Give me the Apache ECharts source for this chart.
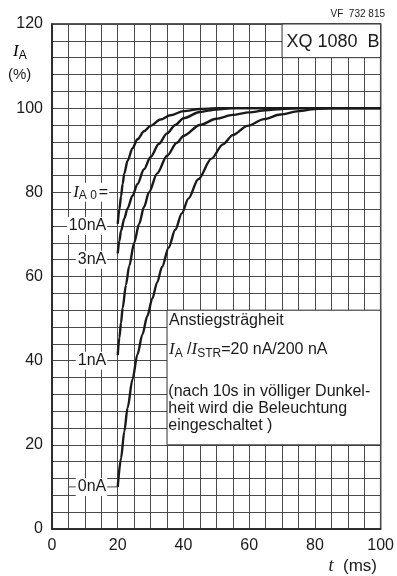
<!DOCTYPE html>
<html><head><meta charset="utf-8">
<script src="https://cdn.jsdelivr.net/npm/echarts@6/dist/echarts.min.js"></script>
<style>html,body{margin:0;padding:0;background:#fff}#c{width:397px;height:576px}</style>
</head><body><div id="c"></div>
<script>
// tick labels
const xTickLabels = [0, 20, 40, 60, 80, 100];
const yTickLabels = [0, 20, 40, 60, 80, 100, 120];
// curve names (dark current I_A0)
const curveNames = ['10nA', '3nA', '1nA', '0nA'];
// curves: [t (ms), I_A (%)]
const curve10nA = [[20,72.5],[20.5,76],[21,79],[21.5,82],[22,84.5],[23,87.5],[24.5,90.5],[26,92.6],[28,94.5],[30,95.8],[33,97.3],[36,98.3],[40,99.3],[45,99.8],[50,100],[100,100]];
const curve3nA = [[20,65.5],[20.5,68.5],[21,70.8],[22,73.8],[23,76.2],[24.5,79.2],[26,82],[28,85.5],[30,88.4],[32.5,91.5],[35,94],[37.5,96],[40,97.6],[45,99.1],[50,99.7],[55,100],[100,100]];
const curve1nA = [[20,41.3],[20.5,45.5],[21,49],[21.5,52.5],[22.5,58],[23.5,62.5],[25,68],[26.5,72.5],[28,76.5],[29.5,80],[32,84.5],[35,88.7],[38,91.8],[40,93.4],[45,96],[50,97.5],[55,98.4],[60,99],[65,99.5],[70,99.8],[75,100],[100,100]];
const curve0nA = [[20,10],[21,16.8],[22,23.2],[23,28.8],[24.5,35.6],[26,41.5],[27.5,46.2],[29,50.6],[30.5,54.7],[32,58.6],[33.5,62.3],[35.5,66.9],[37.5,71.1],[39.5,75],[41.5,78.5],[44.5,83.1],[48.5,88],[52,91.4],[55,93.6],[59.5,95.8],[64.5,97.4],[69.5,98.5],[75,99.3],[80,99.8],[85,100],[100,100]];
const leader0nA = [[5,10],[20,10]];

const FONT = 'Liberation Sans';
const INK = '#1a1a1a';
const GRIDC = '#4a4a4a';
const serifI = {fontFamily: 'Liberation Serif', fontStyle: 'italic', fontSize: 17, color: INK};

const chart = echarts.init(document.getElementById('c'), null, {renderer: 'canvas'});

function curveSeries(name, data) {
  return {
    name: name, type: 'line', data: data, showSymbol: false, smooth: 0.3, smoothMonotone: 'x',
    lineStyle: {color: INK, width: 2.4}, z: 5, silent: true
  };
}
function lab(extra) {
  return Object.assign({show: true, color: INK, fontFamily: FONT, opacity: 1, textBorderWidth: 0}, extra);
}

const option = {
  backgroundColor: '#fff',
  animation: false,
  textStyle: {fontFamily: FONT},
  grid: {left: 52, right: 13, top: 24, bottom: 47, show: true, borderColor: '#222', borderWidth: 1.5, backgroundColor: '#fff'},
  xAxis: {
    type: 'value', min: 0, max: 100, interval: 5,
    axisLine: {show: true, lineStyle: {color: '#222', width: 1.5}},
    axisTick: {show: false},
    axisLabel: {margin: 9, fontSize: 16, color: INK, fontFamily: FONT,
      formatter: v => xTickLabels.includes(v) ? String(v) : ''},
    splitLine: {show: true, lineStyle: {color: GRIDC, width: 1}}
  },
  yAxis: {
    type: 'value', min: 0, max: 120, interval: 4,
    axisLine: {show: true, lineStyle: {color: '#222', width: 1.5}},
    axisTick: {show: false},
    axisLabel: {margin: 9, fontSize: 16, color: INK, fontFamily: FONT,
      formatter: v => yTickLabels.includes(v) ? String(v) : ''},
    splitLine: {show: true, lineStyle: {color: GRIDC, width: 1}}
  },
  graphic: [
    {type: 'text', right: 12, top: 9, style: {text: 'VF  732 815', fontSize: 10, fontFamily: FONT, fill: INK}},
    {type: 'text', left: 13, top: 43, style: {
      text: '{i|I}{s|A}', rich: {i: serifI, s: {fontSize: 12, fontFamily: FONT, color: INK, padding: [8, 0, 0, 0]}}}},
    {type: 'text', left: 8, top: 67, style: {text: '(%)', fontSize: 15, fontFamily: FONT, fill: INK}},
    {type: 'text', right: 20, top: 557, style: {
      text: '{i|t}  (ms)', fontSize: 17, fontFamily: FONT, fill: INK,
      rich: {i: {fontFamily: 'Liberation Serif', fontStyle: 'italic', fontSize: 18, color: INK}}}}
  ],
  series: [
    curveSeries(curveNames[0], curve10nA),
    curveSeries(curveNames[1], curve3nA),
    curveSeries(curveNames[2], curve1nA),
    curveSeries(curveNames[3], curve0nA),
    {type: 'line', data: leader0nA, showSymbol: false, lineStyle: {color: GRIDC, width: 1}, z: 3, silent: true},
    {
      type: 'scatter', symbolSize: 0, z: 6, silent: true,
      itemStyle: {opacity: 1},
      markArea: {
        silent: true,
        itemStyle: {color: '#fff', borderColor: '#333', borderWidth: 1, opacity: 1},
        data: [
          [{coord: [35, 20]}, {coord: [100, 52]}],
          [{coord: [70, 112]}, {coord: [100, 120]}]
        ]
      },
      label: lab({}),
      data: [
        {value: [17.4, 80], label: lab({position: 'left', distance: 0, backgroundColor: '#fff', padding: [0, 1, 0, 2],
          formatter: '{i|I}{s|A 0}{e|=}',
          rich: {i: serifI, s: {fontSize: 12, color: INK, padding: [7, 2, 0, 0]}, e: {fontSize: 16, color: INK}}})},
        {value: [16.8, 72], label: lab({position: 'left', distance: 0, fontSize: 16, backgroundColor: '#fff', padding: [1, 1, 1, 2], formatter: curveNames[0]})},
        {value: [16.8, 64], label: lab({position: 'left', distance: 0, fontSize: 16, backgroundColor: '#fff', padding: [1, 1, 1, 2], formatter: curveNames[1]})},
        {value: [16.8, 40], label: lab({position: 'left', distance: 0, fontSize: 16, backgroundColor: '#fff', padding: [1, 1, 1, 2], formatter: curveNames[2]})},
        {value: [16.8, 10], label: lab({position: 'left', distance: 0, fontSize: 16, backgroundColor: '#fff', padding: [1, 1, 1, 2], formatter: curveNames[3]})},
        {value: [85.5, 115.8], label: lab({position: 'inside', fontSize: 18, formatter: 'XQ 1080  B'})},
        {value: [35.6, 49.6], label: lab({position: 'right', distance: 0, fontSize: 16, formatter: 'Anstiegsträgheit'})},
        {value: [35.6, 42.6], label: lab({position: 'right', distance: 0, fontSize: 16,
          formatter: '{i|I}{s|A} /{i|I}{s|STR}=20 nA/200 nA',
          rich: {i: serifI, s: {fontSize: 12, color: INK, padding: [7, 0, 0, 0]}}})},
        {value: [35.4, 28.6], label: lab({position: 'right', distance: 0, fontSize: 16, lineHeight: 17,
          formatter: '(nach 10s in völliger Dunkel-\nheit wird die Beleuchtung\neingeschaltet )'})}
      ]
    }
  ]
};
chart.setOption(option);
</script></body></html>
